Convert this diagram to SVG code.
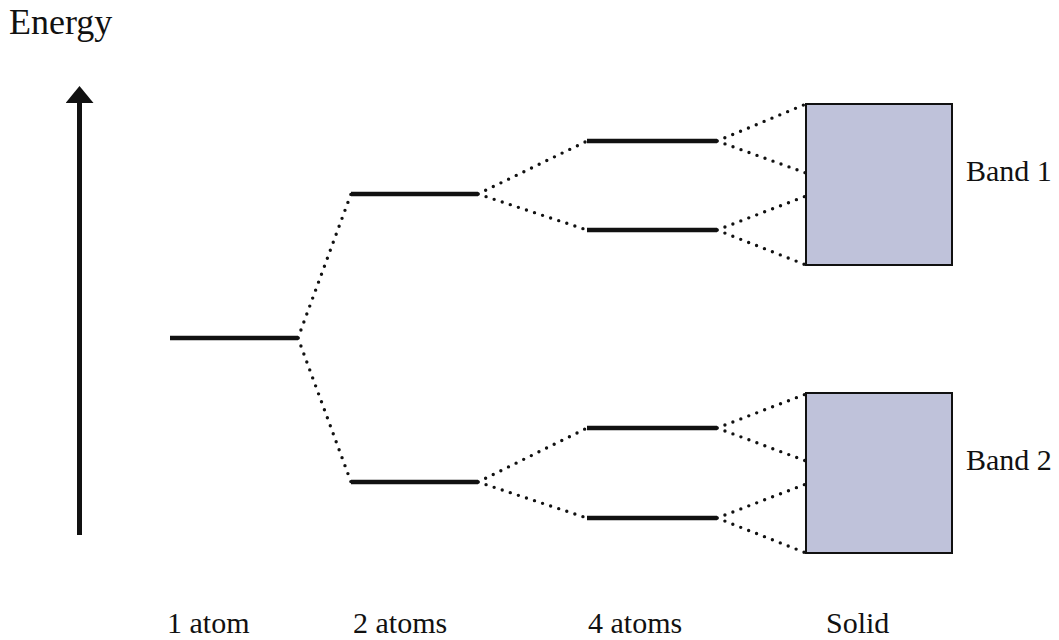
<svg xmlns="http://www.w3.org/2000/svg" width="1059" height="640" viewBox="0 0 1059 640">
  <style>
    .lbl { font-family: "Liberation Serif", "Times New Roman", serif; font-size: 30px; fill: #111; }
    .level { stroke: #111; stroke-width: 4.5; stroke-linecap: butt; }
    .dot { stroke: #111; stroke-width: 3.4; stroke-linecap: round; stroke-dasharray: 0 8.5; fill: none; }
    .band { fill: #bfc2da; stroke: #111; stroke-width: 2; }
  </style>
  <defs>
    <marker id="arrowhead" viewBox="0 0 17 28" refX="0" refY="14" markerWidth="17" markerHeight="28" markerUnits="userSpaceOnUse" orient="auto">
      <path d="M0,0 L17,14 L0,28 z" fill="#111"/>
    </marker>
  </defs>
  <rect width="1059" height="640" fill="#fff"/>

  <!-- energy axis -->
  <g id="axis">
    <text class="lbl" x="9" y="34" style="font-size:36px">Energy</text>
    <line x1="79.5" y1="535" x2="79.5" y2="103" stroke="#111" stroke-width="5" marker-end="url(#arrowhead)"/>
  </g>

  <!-- splitting connectors -->
  <g id="connectors">
    <line class="dot" x1="298" y1="338" x2="351" y2="194"/>
    <line class="dot" x1="298" y1="338" x2="351" y2="482"/>
    <line class="dot" x1="478" y1="194" x2="587" y2="141"/>
    <line class="dot" x1="478" y1="194" x2="587" y2="230"/>
    <line class="dot" x1="478" y1="482" x2="587" y2="428"/>
    <line class="dot" x1="478" y1="482" x2="587" y2="518"/>
    <line class="dot" x1="717" y1="141" x2="806" y2="104"/>
    <line class="dot" x1="717" y1="141" x2="806" y2="173"/>
    <line class="dot" x1="717" y1="230" x2="806" y2="196"/>
    <line class="dot" x1="717" y1="230" x2="806" y2="265"/>
    <line class="dot" x1="717" y1="428" x2="806" y2="394"/>
    <line class="dot" x1="717" y1="428" x2="806" y2="461"/>
    <line class="dot" x1="717" y1="518" x2="806" y2="484"/>
    <line class="dot" x1="717" y1="518" x2="806" y2="553"/>
  </g>

  <!-- single atom level -->
  <g id="level-1atom">
    <line class="level" x1="170" y1="338" x2="298" y2="338"/>
  </g>

  <!-- two-atom levels -->
  <g id="levels-2atoms">
    <line class="level" x1="351" y1="194" x2="478" y2="194"/>
    <line class="level" x1="351" y1="482" x2="478" y2="482"/>
  </g>

  <!-- four-atom levels -->
  <g id="levels-4atoms">
    <line class="level" x1="587" y1="141" x2="717" y2="141"/>
    <line class="level" x1="587" y1="230" x2="717" y2="230"/>
    <line class="level" x1="587" y1="428" x2="717" y2="428"/>
    <line class="level" x1="587" y1="518" x2="717" y2="518"/>
  </g>

  <!-- bands in the solid -->
  <g id="band-1">
    <rect class="band" x="806" y="104" width="146" height="161"/>
    <text class="lbl" x="966" y="181">Band 1</text>
  </g>
  <g id="band-2">
    <rect class="band" x="806" y="393" width="146" height="160"/>
    <text class="lbl" x="966" y="470">Band 2</text>
  </g>

  <!-- column labels -->
  <g id="column-labels">
    <text class="lbl" x="167" y="633">1 atom</text>
    <text class="lbl" x="353" y="633">2 atoms</text>
    <text class="lbl" x="588" y="633">4 atoms</text>
    <text class="lbl" x="826" y="633">Solid</text>
  </g>
</svg>
